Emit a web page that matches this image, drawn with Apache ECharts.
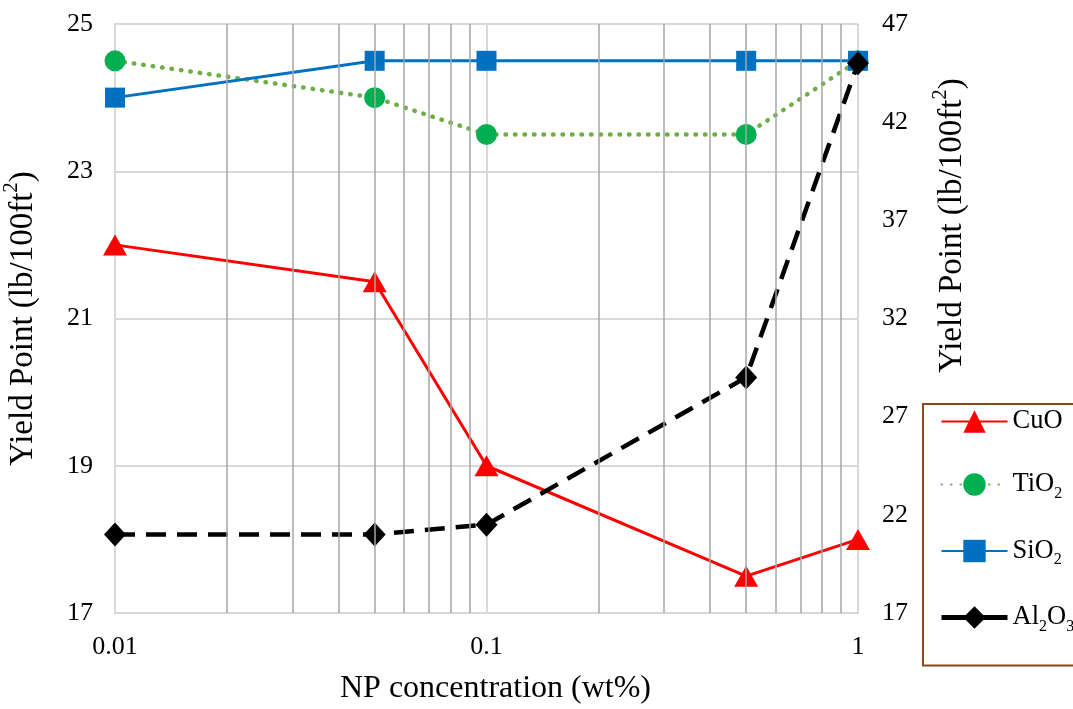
<!DOCTYPE html>
<html>
<head>
    <meta charset="utf-8">
    <title>Yield Point</title>
    <script src="https://cdn.jsdelivr.net/npm/echarts@6/dist/echarts.min.js"></script>
    <style>
        body { margin: 0; background: #fff; }
    </style>
</head>
<body>
    <div id="main" style="width:1073px;height:709px"></div>
    <script type="text/javascript">
    // NP concentration (wt%)
    var conc = [0.01, 0.05, 0.1, 0.5, 1];
    // left axis
    var cuo = [22, 21.5, 19, 17.5, 18];
    var tio2 = [24.5, 24, 23.5, 23.5, 24.5];
    var sio2 = [24, 24.5, 24.5, 24.5, 24.5];
    // right axis
    var al2o3 = [21, 21, 21.5, 29, 45];
    // minor log grid lines
    var minorX = [0.02, 0.03, 0.04, 0.05, 0.06, 0.07, 0.08, 0.09,
                  0.2, 0.3, 0.4, 0.5, 0.6, 0.7, 0.8, 0.9];

    var FONT = 'Liberation Serif';
    var myChart = echarts.init(document.getElementById('main'));

    function pairs(ys) {
        return conc.map(function (x, i) { return [x, ys[i]]; });
    }

    function subName(name) {
        // digits become subscripts: TiO2 -> TiO{sub|2}
        return name.replace(/([A-Za-z]+)(\d?)/g, function (m, a, d) {
            return '{n|' + a + '}' + (d ? '{sub|' + d + '}' : '');
        });
    }

    var nameRich = {
        n: { fontFamily: FONT, fontSize: 33, color: '#000', lineHeight: 44 },
        sup: { fontFamily: FONT, fontSize: 21, color: '#000', lineHeight: 21, verticalAlign: 'top' }
    };
    var yName = '{n|Yield Point (lb/100ft}{sup|2}{n|)}';

    var option = {
        animation: false,
        grid: { left: 115, right: 215, top: 24, bottom: 96, outerBoundsMode: 'none', containLabel: false },
        legend: {
            orient: 'vertical',
            left: 923,
            top: 404,
            data: ['CuO', 'TiO2', 'SiO2',
                   { name: 'Al2O3', lineStyle: { type: 'solid', width: 5 } }],
            itemWidth: 66,
            itemHeight: 28,
            itemGap: 36,
            padding: [4, 40, 31, 16],
            borderColor: '#8a4a1c',
            borderWidth: 2,
            formatter: subName,
            textStyle: {
                rich: {
                    n: { fontFamily: FONT, fontSize: 26.5, color: '#000', lineHeight: 34 },
                    sub: { fontFamily: FONT, fontSize: 16, color: '#000', lineHeight: 16, verticalAlign: 'bottom' }
                }
            }
        },
        xAxis: {
            type: 'log',
            logBase: 10,
            min: 0.01,
            max: 1,
            name: 'NP concentration (wt%)',
            nameLocation: 'middle',
            nameGap: 60,
            nameTextStyle: { fontFamily: FONT, fontSize: 32, color: '#000', padding: [0, 0, 0, 18] },
            axisLine: { lineStyle: { color: '#d9d9d9', width: 2 } },
            axisTick: { show: false },
            axisLabel: {
                fontFamily: FONT, fontSize: 26, color: '#000', margin: 21,
                formatter: function (v) { return String(+v.toPrecision(3)); }
            },
            splitLine: { show: true, lineStyle: { color: '#d9d9d9', width: 2 } }
        },
        yAxis: [
            {
                type: 'value',
                min: 17,
                max: 25,
                interval: 2,
                name: yName,
                nameLocation: 'middle',
                nameGap: 70,
                nameTextStyle: { rich: nameRich },
                axisLine: { show: true, lineStyle: { color: '#d9d9d9', width: 2 } },
                axisTick: { show: false },
                axisLabel: { fontFamily: FONT, fontSize: 26, color: '#000', margin: 22 },
                splitLine: { show: true, lineStyle: { color: '#d9d9d9', width: 2 } }
            },
            {
                type: 'value',
                min: 17,
                max: 47,
                interval: 5,
                name: yName,
                nameLocation: 'middle',
                nameGap: 72,
                // lifted above the legend box
                nameTextStyle: { rich: nameRich, padding: [0, 0, 0, 186] },
                axisLine: { show: false },
                axisTick: { show: false },
                axisLabel: { fontFamily: FONT, fontSize: 26, color: '#000', margin: 24 },
                splitLine: { show: false }
            }
        ],
        series: [
            {
                name: 'minor',
                type: 'line',
                data: [],
                silent: true,
                z: 0,
                markLine: {
                    silent: true,
                    symbol: 'none',
                    label: { show: false },
                    lineStyle: { color: '#a6a6a6', width: 1.5, type: 'solid' },
                    data: minorX.map(function (x) { return { xAxis: x }; })
                }
            },
            {
                name: 'CuO',
                type: 'line',
                data: pairs(cuo),
                symbol: 'triangle',
                symbolSize: [24, 21],
                lineStyle: { color: '#ff0000', width: 3 },
                itemStyle: { color: '#ff0000' }
            },
            {
                name: 'TiO2',
                type: 'line',
                data: pairs(tio2),
                symbol: 'circle',
                symbolSize: 21,
                lineStyle: { color: '#70ad47', width: 4.5, type: [0.5, 9], cap: 'round' },
                itemStyle: { color: '#00b050' }
            },
            {
                name: 'SiO2',
                type: 'line',
                data: pairs(sio2),
                symbol: 'rect',
                symbolSize: 20,
                lineStyle: { color: '#0070c0', width: 3 },
                itemStyle: { color: '#0070c0' }
            },
            {
                name: 'Al2O3',
                type: 'line',
                yAxisIndex: 1,
                data: pairs(al2o3),
                symbol: 'diamond',
                symbolSize: [22, 24],
                lineStyle: { color: '#000', width: 4.5, type: [20, 11] },
                itemStyle: { color: '#000' }
            }
        ]
    };
    myChart.setOption(option);
    </script>
</body>
</html>
